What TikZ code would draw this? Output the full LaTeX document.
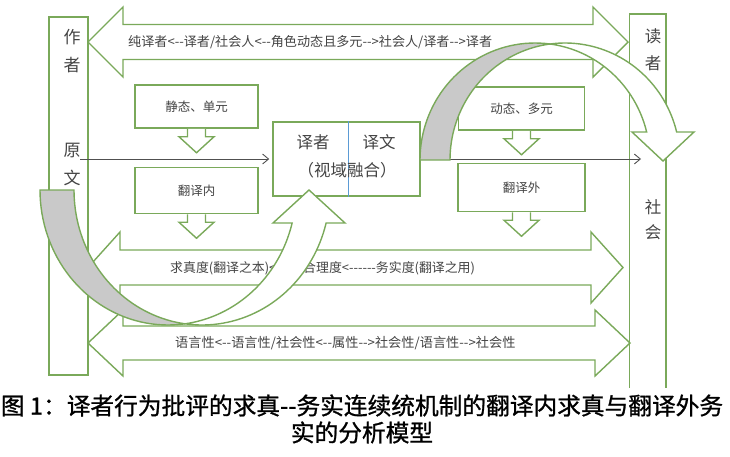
\documentclass[tikz,border=0pt]{standalone}
\usepackage{fontspec}
\setmainfont{Noto Sans CJK SC}
\newfontfamily\capfont[FakeBold=1]{Noto Sans CJK SC}
\usepackage{xcolor}
\usepackage{tikz}
\usetikzlibrary{arrows.meta,positioning}
\definecolor{leaf}{HTML}{7AA95A}
\definecolor{shade}{HTML}{C9C9C9}
\definecolor{inkgray}{HTML}{444444}
\definecolor{wire}{HTML}{505050}
\definecolor{seam}{HTML}{5B9BD5}
\tikzset{
  colbox/.style ={draw=leaf,line width=1.5pt},
  tbox/.style   ={draw=leaf,line width=1.5pt,fill=white,align=center,
                  font=\fontsize{12.5}{14}\selectfont,text=inkgray},
  band/.style   ={draw=leaf,line width=1.4pt,fill=white},
  back/.style   ={draw=leaf,line width=1.4pt,fill=shade},
  say/.style    ={text=inkgray,font=\fontsize{12.9}{14}\selectfont},
  glyph/.style  ={text=inkgray,align=center,font=\fontsize{17}{28}\selectfont},
  feed/.style   ={-{Straight Barb[length=6pt,width=10pt]},line width=0.9pt,draw=wire},
  downarr/.pic  ={\draw[band] (-9,0) -- (-9,8) -- (-17.5,8) -- (0,24) -- (17.5,8) -- (9,8) -- (9,0);}
}
\begin{document}
\begin{tikzpicture}[x=1pt,y=-1pt,every node/.style={inner sep=0pt}]
  \useasboundingbox (0,0) rectangle (730,456);
  \node[colbox,minimum width=39pt,minimum height=358pt] (author) at (68.5,196) {};
  \draw[colbox] (629.5,388) |- (666,14) -- (666,388);
  \foreach \yc/\xa/\xb/\hl/\hh/\sh in {42/88/628/35/35/17.5, 267.5/88/623/32/35.5/17.5, 343/88/630/35/33/17}
    \draw[band] (\xa,\yc) -- (\xa+\hl,\yc-\hh) -- (\xa+\hl,\yc-\sh) -- (\xb-\hl,\yc-\sh)
      -- (\xb-\hl,\yc-\hh) -- (\xb,\yc) -- (\xb-\hl,\yc+\hh) -- (\xb-\hl,\yc+\sh)
      -- (\xa+\hl,\yc+\sh) -- (\xa+\hl,\yc+\hh) -- cycle;
  \node[say,font=\fontsize{13.1}{14}\selectfont,anchor=west] (roles) at (128,42)
    {纯译者<-{}-译者/社会人<-{}-角色动态且多元-{}->社会人/译者-{}->译者};
  \node[say,anchor=west] (degree) at (170,268)
    {求真度(翻译之本)<-{}-{}-{}-{}-{}-合理度<-{}-{}-{}-{}-{}-务实度(翻译之用)};
  \node[say,font=\fontsize{13.2}{14}\selectfont,anchor=west] (nature) at (175,343)
    {语言性<-{}-语言性/社会性<-{}-属性-{}->社会性/语言性-{}->社会性};
  \node[tbox,minimum width=123pt,minimum height=43pt] (still) at (196.5,106.5) {静态、单元};
  \node[tbox,minimum width=123pt,minimum height=46pt,below=38pt of still] (inner) {翻译内};
  \node[tbox,minimum width=126pt,minimum height=43pt] (moving) at (521.5,108.5) {动态、多元};
  \node[tbox,minimum width=127pt,minimum height=48pt,below=32pt of moving] (outer) {翻译外};
  \pic at (still.south) {downarr};
  \pic at (inner.south) {downarr};
  \pic at (moving.south) {downarr};
  \pic at (outer.south) {downarr};
  \node[tbox,minimum width=147pt,minimum height=74pt] (vf) at (346.5,159) {};
  \draw[seam,line width=0.7pt] ([xshift=1.5pt]vf.north) -- ([xshift=1.5pt]vf.south);
  \node[text=inkgray,font=\fontsize{16.5}{18}\selectfont] (yz) at (313,142) {译者};
  \node[text=inkgray,font=\fontsize{16.5}{18}\selectfont] (yw) at (379,142) {译文};
  \node[text=inkgray,font=\fontsize{16.5}{18}\selectfont] (rh) at (347,170) {（视域融合）};
  \coordinate (src) at (80,159);
  \coordinate (dst) at (641,159);
  \draw[feed] (src) -- ([xshift=-3pt]vf.west);
  \draw[feed] (vf.east) -- (dst);
  \draw[back] plot[domain=180:82.37,samples=40] ({168+128*cos(\x)},{190+135*sin(\x)})
    -- plot[domain=97.63:180,samples=40] ({202+128*cos(\x)},{190+135*sin(\x)}) -- cycle;
  \draw[band] plot[domain=97.63:14.15,samples=40] ({202+128*cos(\x)},{190+135*sin(\x)})
    -- (345,223) -- (309,190) -- (273,223)
    -- plot[domain=14.15:82.37,samples=40] ({168+128*cos(\x)},{190+135*sin(\x)}) -- cycle;
  \draw[back] plot[domain=180:82.5,samples=40] ({535+115*cos(\x)},{160-117*sin(\x)})
    -- plot[domain=97.5:180,samples=40] ({565+115*cos(\x)},{160-117*sin(\x)}) -- cycle;
  \draw[band] plot[domain=97.5:13.85,samples=40] ({565+115*cos(\x)},{160-117*sin(\x)})
    -- (694,132) -- (663,161) -- (632,132)
    -- plot[domain=13.85:82.5,samples=40] ({535+115*cos(\x)},{160-117*sin(\x)}) -- cycle;
  \node[glyph] (writer) at (72,51) {作\\者};
  \node[glyph] (source) at (72,164) {原\\文};
  \node[glyph,font=\fontsize{16.5}{26.5}\selectfont] (reader) at (653,49.5) {读\\者};
  \node[glyph,font=\fontsize{16.5}{25.5}\selectfont] (society) at (653,219.5) {社\\会};
  \node[font=\capfont\fontsize{23.7}{27}\selectfont,align=center] (cap) at (362,419)
    {图 1：译者行为批评的求真-{}-务实连续统机制的翻译内求真与翻译外务\\实的分析模型};
\end{tikzpicture}
\end{document}
